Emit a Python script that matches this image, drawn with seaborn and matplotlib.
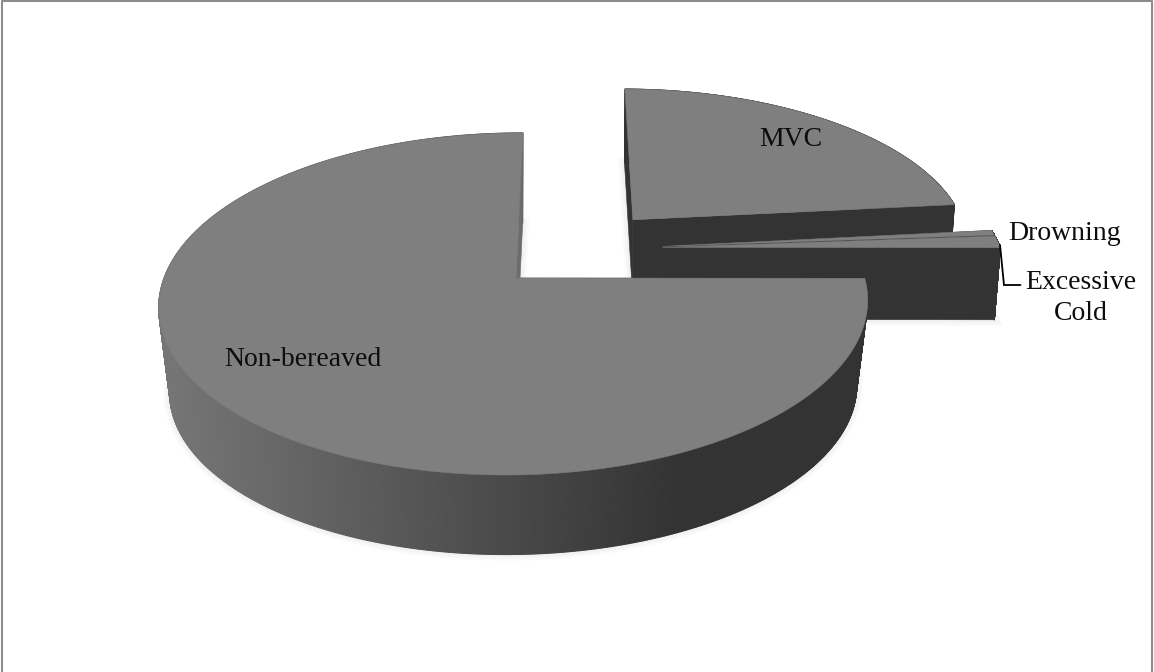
import numpy as np
import matplotlib
matplotlib.use("Agg")
import matplotlib.pyplot as plt
from matplotlib.collections import PolyCollection
import seaborn as sns

# Share of each group, in percent, clockwise from twelve o'clock
categories = ["MVC", "Drowning", "Excessive Cold", "Non-bereaved"]
shares = [23.3, 0.5, 1.2, 75.0]

TOP = "#7f7f7f"
DARK = "#333333"
CUT = "#6c6c6c"

# Perspective of the disc plane, expressed in canvas pixels
A, B, C = 352.5, 86.5, 516.0
D, E, F = 1.5, -124.8, 278.0
G, H = 0.0043, 0.152


def project(u, v):
    w = G * u + H * v + 1.0
    return (A * u + B * v + C) / w, (D * u + E * v + F) / w


def extrude(x, y, vanish, t):
    # Push a point of the top face towards the vanishing point of the vertical edges
    return x + t * (vanish[0] - x), y + t * (vanish[1] - y)


def arc(start, stop, offset, n=800):
    theta = np.radians(np.linspace(start, stop, n))
    return project(offset[0] + np.sin(theta), offset[1] + np.cos(theta))


def bearing(degrees, length):
    rad = np.radians(degrees)
    return length * np.sin(rad), length * np.cos(rad)


sns.set_theme(style="white")
plt.rcParams["font.family"] = ["Liberation Serif", "DejaVu Serif"]

fig = plt.figure(figsize=(11.54, 6.72), dpi=100, facecolor="white")
ax = fig.add_axes([0, 0, 1, 1])
ax.set_xlim(0, 1154)
ax.set_ylim(672, 0)
ax.axis("off")

edges = np.concatenate([[0.0], np.cumsum(shares)]) * 3.6
spans = dict(zip(categories, zip(edges[:-1], edges[1:])))

side_cmap = sns.blend_palette(["#757575", DARK], as_cmap=True)


def soft_edge(xs, ys):
    # Faint drop shadow around the lower outline
    for lw in (9, 6, 3):
        ax.fill(xs, ys, facecolor="none", edgecolor=(0, 0, 0, 0.018), lw=lw, zorder=1)


def draw_slice(name, offset, vanish, t, cut_colors, gradient=False, z=2):
    start, stop = spans[name]
    ax_x, ax_y = project(*offset)
    xs, ys = arc(start, stop, offset)
    lx, ly = extrude(xs, ys, vanish, t)
    lax, lay = extrude(ax_x, ax_y, vanish, t)

    soft_edge(np.r_[lax, lx], np.r_[lay, ly])

    # Rim
    quads = [[(xs[i], ys[i]), (xs[i + 1], ys[i + 1]), (lx[i + 1], ly[i + 1]), (lx[i], ly[i])]
             for i in range(len(xs) - 1)]
    if gradient:
        rim = PolyCollection(quads, array=(xs[:-1] + xs[1:]) / 2, cmap=side_cmap,
                             clim=(165, 680), edgecolor="face", linewidth=0.8, zorder=z)
    else:
        rim = PolyCollection(quads, facecolor=DARK, edgecolor=DARK, linewidth=0.6, zorder=z)
    ax.add_collection(rim)

    # Radial cut faces
    for idx, color in zip((0, -1), cut_colors):
        ax.fill([ax_x, xs[idx], lx[idx], lax], [ax_y, ys[idx], ly[idx], lay],
                facecolor=color, edgecolor=color, lw=0.4, zorder=z)

    # Top face
    ax.fill(np.r_[ax_x, xs], np.r_[ax_y, ys], facecolor=TOP, edgecolor="#7a7a7a", lw=0.4, zorder=z + 0.5)


far_vanish = (600.0, 5050.0)
near_vanish = (513.0, 3040.0)

draw_slice("MVC", bearing(43, 0.505), far_vanish, 0.015, (DARK, DARK), z=2)
draw_slice("Drowning", (0.427, 0.196), far_vanish, 0.015, (DARK, DARK), z=3)
draw_slice("Excessive Cold", (0.427, 0.19), far_vanish, 0.015, (DARK, DARK), z=4)
draw_slice("Non-bereaved", (0.0, 0.0), near_vanish, 0.031, (DARK, CUT), gradient=True, z=5)

# Slice labels
label_style = dict(fontsize=20, color="#0d0d0d", zorder=8)
ax.text(791, 139, "MVC", ha="center", va="center", **label_style)
ax.text(302.5, 359, "Non-bereaved", ha="center", va="center", **label_style)
ax.text(1008, 234, "Drowning", ha="left", va="center", **label_style)
ax.text(1081, 298, "Excessive\nCold", ha="center", va="center", linespacing=1.27, **label_style)

# Leader line for the narrow slice
leader_x = [1000, 1004, 1020.5]
leader_y = [245, 285, 285]
ax.plot(leader_x, leader_y, color="black", lw=1.3, zorder=7, solid_joinstyle="miter")

# Chart frame
frame_x = [1.5, 1.5, 1152, 1152]
frame_y = [672, 1, 1, 672]
ax.plot(frame_x, frame_y, color="#8c8c8c", lw=1.5, zorder=9)

fig.savefig("out.png", dpi=100, facecolor="white")
